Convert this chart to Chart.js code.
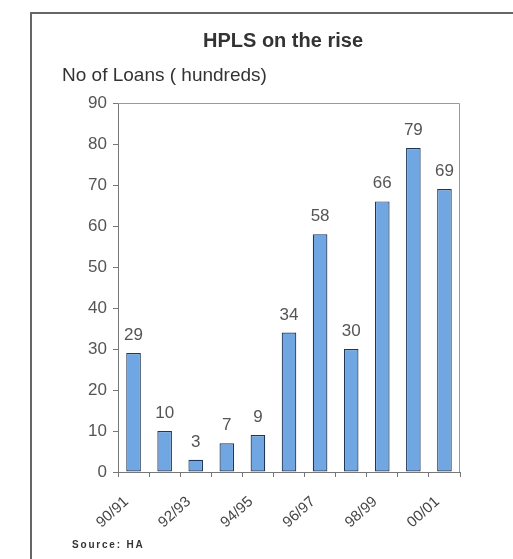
<!DOCTYPE html>
<html>
<head>
<meta charset="utf-8">
<script src="https://cdn.jsdelivr.net/npm/chart.js@4"></script>
<style>
	body { margin: 0; background: #fff; font-family: "Liberation Sans", Arial, sans-serif; }
	#wrap { position: relative; width: 513px; height: 559px; overflow: hidden; }
	#frame { position: absolute; left: 30px; top: 12px; width: 600px; height: 700px; border-left: 2px solid #666; border-top: 2px solid #666; }
	#title { position: absolute; left: 0; width: 566px; top: 29px; text-align: center; font-weight: bold; font-size: 20px; color: #333; }
	#ytitle { position: absolute; left: 62px; top: 64px; font-size: 19px; color: #333; }
	#source { position: absolute; left: 72px; top: 539px; font-size: 10px; font-weight: bold; letter-spacing: 1.8px; color: #333; }
	canvas { position: absolute; left: 0; top: 0; }
</style>
</head>
<body>
<div id="wrap">
	<div id="frame"></div>
	<canvas id="chart" width="513" height="559"></canvas>
	<div id="title">HPLS on the rise</div>
	<div id="ytitle">No of Loans ( hundreds)</div>
	<div id="source">Source: HA</div>
</div>
<script>
var years = ["90/91", "91/92", "92/93", "93/94", "94/95", "95/96", "96/97", "97/98", "98/99", "99/00", "00/01"];
var loans = [29, 10, 3, 7, 9, 34, 58, 30, 66, 79, 69];
var yMax = 90;
var yStep = 10;

// grey box round the plot area, value labels above the bars
var plotExtras = {
	id: "plotExtras",
	afterDatasetsDraw: function (chart) {
		var ctx = chart.ctx;
		var area = chart.chartArea;
		ctx.save();
		ctx.strokeStyle = "#999";
		ctx.lineWidth = 1;
		ctx.beginPath();
		ctx.moveTo(area.left, area.top + 0.5);
		ctx.lineTo(area.right - 0.5, area.top + 0.5);
		ctx.lineTo(area.right - 0.5, area.bottom);
		ctx.stroke();

		ctx.fillStyle = "#555";
		ctx.font = "17px 'Liberation Sans', Arial, sans-serif";
		ctx.textAlign = "center";
		ctx.textBaseline = "alphabetic";
		chart.getDatasetMeta(0).data.forEach(function (bar, i) {
			ctx.fillText(String(loans[i]), bar.x, bar.y - 13);
		});
		ctx.restore();
	}
};

var chart = new Chart(document.getElementById("chart").getContext("2d"), {
	type: "bar",
	data: {
		labels: years,
		datasets: [{
			label: "Loans",
			data: loans,
			backgroundColor: "#70a7e2",
			borderColor: "#1f3658",
			borderWidth: 1.2,
			borderSkipped: false,
			categoryPercentage: 1,
			barPercentage: 0.47
		}]
	},
	options: {
		responsive: false,
		animation: false,
		layout: { padding: { left: 78, right: 53, top: 103, bottom: 27 } },
		plugins: {
			legend: { display: false },
			tooltip: { enabled: false }
		},
		scales: {
			x: {
				afterFit: function (scale) { scale.height = 60; },
				grid: { offset: true, drawOnChartArea: false, drawTicks: true, tickLength: 5, color: "#777" },
				border: { display: true, color: "#777" },
				ticks: {
					autoSkip: false,
					maxRotation: 42,
					minRotation: 42,
					padding: 16,
					labelOffset: -7,
					color: "#444",
					font: { family: "'Liberation Sans', Arial, sans-serif", size: 15 },
					callback: function (value, index) { return index % 2 === 0 ? years[index] : ""; }
				}
			},
			y: {
				min: 0,
				max: yMax,
				afterFit: function (scale) { scale.width = 40; },
				grid: { drawOnChartArea: false, drawTicks: true, tickLength: 5, color: "#777" },
				border: { display: true, color: "#777" },
				ticks: {
					stepSize: yStep,
					padding: 6,
					color: "#555",
					font: { family: "'Liberation Sans', Arial, sans-serif", size: 17 }
				}
			}
		}
	},
	plugins: [plotExtras]
});
</script>
</body>
</html>
